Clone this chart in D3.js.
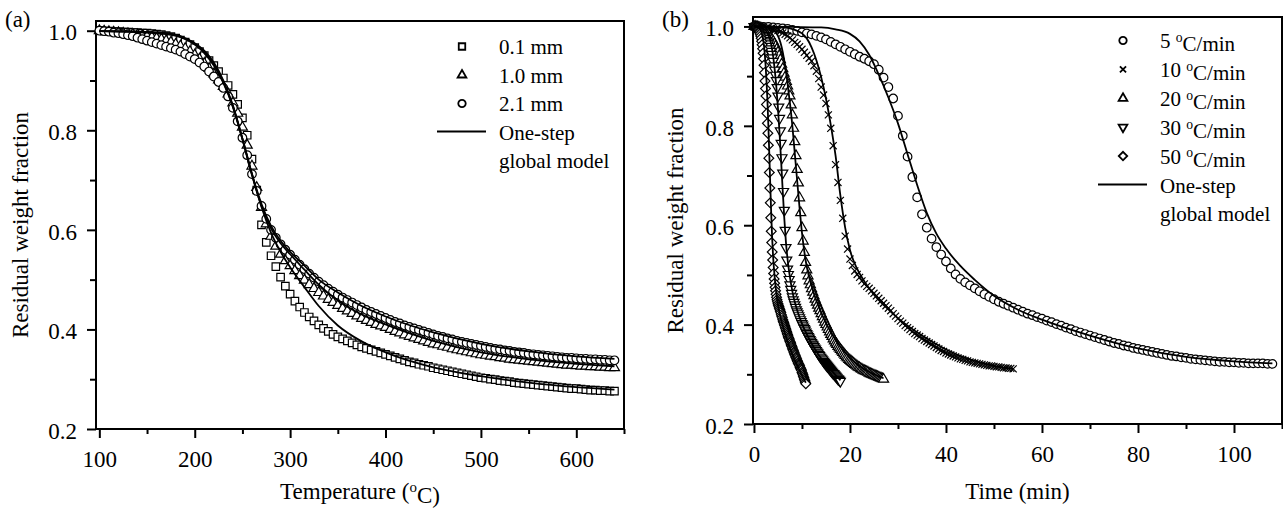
<!DOCTYPE html>
<html lang="en">
  <head>
    <meta charset="utf-8">
    <title>Residual weight fraction</title>
    <script src="https://cdn.jsdelivr.net/npm/d3@7"></script>
    <style type="text/css">
      body { margin: 0; background: #fff; }
      svg { display: block; font-family: "Liberation Serif", "Times New Roman", serif; }
      .frame { fill: none; stroke: #000; stroke-width: 2px; }
      .model { fill: none; stroke: #000; stroke-width: 1.8px; }
      .mark { fill: #fff; stroke: #000; stroke-width: 1.2px; }
      .legmark { fill: #fff; stroke: #000; stroke-width: 1.8px; }
      .tick line { stroke: #000; stroke-width: 2px; }
      .tick text { font-family: "Liberation Serif", "Times New Roman", serif; font-size: 23px; fill: #000; }
      .label { font-size: 23px; fill: #000; }
      .legend text { font-size: 21px; fill: #000; }
    </style>
  </head>
  <body>
    <script>
      var w = 1283;
      var h = 515;

      // panel (a): readings every 5 oC from 100 oC
      var tempStart = 100;
      var tempStep = 5;
      var sizeLabels = ["0.1 mm", "1.0 mm", "2.1 mm"];

      var frac01mm = [1.000,0.999,0.999,0.998,0.998,0.997,0.997,0.996,0.996,0.995,
        0.995,0.994,0.993,0.992,0.990,0.988,0.985,0.981,0.977,0.972,
        0.966,0.958,0.950,0.940,0.930,0.918,0.905,0.890,0.872,0.852,
        0.825,0.790,0.742,0.680,0.610,0.575,0.548,0.526,0.505,0.487,
        0.471,0.457,0.445,0.434,0.425,0.417,0.409,0.402,0.396,0.390,
        0.385,0.381,0.377,0.373,0.369,0.365,0.362,0.359,0.356,0.353,
        0.350,0.347,0.344,0.341,0.338,0.335,0.333,0.330,0.328,0.326,
        0.323,0.321,0.319,0.317,0.315,0.313,0.311,0.309,0.307,0.305,
        0.303,0.302,0.300,0.299,0.297,0.296,0.295,0.293,0.292,0.291,
        0.290,0.289,0.288,0.287,0.286,0.285,0.284,0.283,0.282,0.281,
        0.281,0.280,0.279,0.278,0.278,0.277,0.277,0.276,0.276];

      var frac10mm = [1.000,0.999,0.998,0.997,0.996,0.995,0.994,0.993,0.992,0.990,
        0.989,0.987,0.985,0.983,0.980,0.977,0.973,0.969,0.964,0.958,
        0.951,0.943,0.934,0.924,0.913,0.901,0.888,0.873,0.855,0.834,
        0.806,0.770,0.728,0.685,0.645,0.612,0.587,0.567,0.551,0.538,
        0.528,0.518,0.508,0.499,0.490,0.482,0.474,0.467,0.460,0.454,
        0.448,0.442,0.437,0.432,0.427,0.422,0.418,0.414,0.410,0.407,
        0.404,0.400,0.396,0.393,0.389,0.386,0.383,0.380,0.377,0.374,
        0.371,0.369,0.366,0.364,0.361,0.359,0.357,0.355,0.353,0.351,
        0.349,0.348,0.346,0.345,0.343,0.342,0.340,0.339,0.338,0.337,
        0.336,0.335,0.334,0.333,0.332,0.331,0.330,0.329,0.328,0.328,
        0.327,0.326,0.326,0.325,0.325,0.324,0.324,0.323,0.323];

      var frac21mm = [1.000,0.999,0.998,0.996,0.995,0.993,0.991,0.989,0.986,0.983,
        0.980,0.977,0.974,0.971,0.968,0.965,0.962,0.958,0.953,0.948,
        0.943,0.936,0.928,0.918,0.908,0.897,0.885,0.868,0.845,0.818,
        0.785,0.750,0.712,0.678,0.648,0.622,0.600,0.584,0.571,0.560,
        0.550,0.540,0.530,0.521,0.512,0.504,0.496,0.489,0.482,0.476,
        0.470,0.464,0.459,0.454,0.449,0.444,0.439,0.435,0.431,0.427,
        0.423,0.419,0.415,0.412,0.408,0.405,0.402,0.399,0.396,0.393,
        0.390,0.387,0.385,0.382,0.380,0.377,0.375,0.373,0.371,0.369,
        0.367,0.365,0.363,0.361,0.360,0.358,0.357,0.355,0.354,0.353,
        0.351,0.350,0.349,0.348,0.347,0.346,0.345,0.344,0.343,0.343,
        0.342,0.341,0.341,0.340,0.340,0.339,0.339,0.338,0.338];

      // one-step global model, sampled at these temperatures
      var modelTemps = [100,140,170,185,200,210,220,230,240,250,260,270,280,
        290,300,315,330,350,375,400,450,500,550,600,640];
      var model01mm = [0.999,0.998,0.995,0.988,0.972,0.955,0.930,0.895,0.847,0.783,0.712,0.646,0.594,
        0.556,0.525,0.485,0.447,0.408,0.376,0.354,0.324,0.306,0.293,0.284,0.279];
      var model10mm = [0.999,0.998,0.995,0.989,0.974,0.957,0.932,0.897,0.848,0.782,0.710,0.648,0.603,
        0.573,0.551,0.520,0.490,0.458,0.430,0.410,0.377,0.354,0.340,0.331,0.326];
      var model21mm = [0.999,0.997,0.993,0.987,0.975,0.960,0.936,0.900,0.850,0.783,0.712,0.652,0.608,
        0.578,0.556,0.528,0.500,0.474,0.447,0.426,0.394,0.371,0.356,0.346,0.341];

      // panel (b): heating rates, readings every 5 oC of furnace temperature
      var rates = [5, 10, 20, 30, 50];

      var frac5 = [1.000,1.000,0.999,0.999,0.998,0.997,0.996,0.995,0.993,0.991,
        0.988,0.986,0.984,0.981,0.978,0.974,0.969,0.964,0.959,0.954,
        0.949,0.944,0.939,0.935,0.930,0.924,0.913,0.897,0.878,0.855,
        0.820,0.780,0.738,0.697,0.656,0.622,0.595,0.573,0.556,0.541,
        0.527,0.513,0.501,0.492,0.485,0.479,0.473,0.467,0.461,0.456,
        0.451,0.446,0.442,0.438,0.434,0.430,0.426,0.422,0.419,0.415,
        0.412,0.408,0.405,0.401,0.398,0.394,0.391,0.387,0.384,0.381,
        0.378,0.375,0.372,0.369,0.366,0.363,0.361,0.358,0.356,0.353,
        0.351,0.349,0.347,0.345,0.343,0.341,0.339,0.337,0.336,0.334,
        0.333,0.331,0.330,0.329,0.328,0.327,0.326,0.325,0.325,0.324,
        0.324,0.323,0.323,0.322,0.322,0.322,0.322,0.321,0.321];

      var frac10 = [1.000,1.000,0.999,0.999,0.998,0.997,0.997,0.996,0.995,0.994,
        0.992,0.990,0.987,0.984,0.981,0.977,0.973,0.968,0.964,0.959,
        0.954,0.948,0.942,0.936,0.930,0.921,0.910,0.895,0.878,0.862,
        0.845,0.822,0.795,0.760,0.722,0.686,0.650,0.614,0.578,0.552,
        0.532,0.519,0.508,0.501,0.495,0.488,0.482,0.477,0.473,0.468,
        0.463,0.458,0.453,0.448,0.443,0.438,0.433,0.428,0.422,0.417,
        0.412,0.407,0.403,0.398,0.394,0.390,0.386,0.382,0.379,0.376,
        0.372,0.369,0.366,0.363,0.360,0.357,0.354,0.351,0.348,0.346,
        0.343,0.341,0.339,0.337,0.335,0.333,0.331,0.330,0.328,0.327,
        0.325,0.324,0.323,0.322,0.321,0.320,0.319,0.318,0.317,0.317,
        0.316,0.315,0.315,0.314,0.313,0.313,0.312,0.312,0.311];

      var frac20 = [1.000,1.000,0.999,0.999,0.998,0.997,0.996,0.995,0.993,0.991,
        0.989,0.987,0.984,0.981,0.977,0.974,0.970,0.965,0.960,0.954,
        0.948,0.941,0.933,0.924,0.915,0.906,0.898,0.889,0.880,0.870,
        0.860,0.842,0.822,0.795,0.768,0.740,0.712,0.685,0.655,0.625,
        0.595,0.568,0.545,0.525,0.510,0.498,0.488,0.480,0.472,0.465,
        0.458,0.451,0.445,0.439,0.433,0.428,0.422,0.416,0.411,0.405,
        0.400,0.395,0.390,0.385,0.380,0.376,0.371,0.367,0.363,0.360,
        0.356,0.353,0.350,0.347,0.344,0.341,0.338,0.335,0.333,0.330,
        0.328,0.326,0.324,0.322,0.320,0.318,0.316,0.314,0.313,0.311,
        0.310,0.308,0.307,0.306,0.305,0.304,0.302,0.301,0.300,0.299,
        0.298,0.297,0.296,0.295,0.294,0.293,0.292,0.291,0.290];

      var frac30 = [1.000,1.000,0.999,0.999,0.998,0.997,0.996,0.995,0.993,0.991,
        0.989,0.987,0.985,0.982,0.979,0.976,0.972,0.969,0.965,0.960,
        0.955,0.950,0.944,0.937,0.930,0.921,0.912,0.902,0.891,0.877,
        0.860,0.838,0.815,0.790,0.765,0.736,0.705,0.668,0.630,0.590,
        0.555,0.530,0.512,0.501,0.491,0.480,0.471,0.463,0.456,0.450,
        0.445,0.440,0.435,0.430,0.426,0.422,0.418,0.414,0.410,0.406,
        0.402,0.399,0.395,0.392,0.389,0.385,0.382,0.379,0.376,0.373,
        0.370,0.367,0.364,0.361,0.359,0.356,0.353,0.351,0.348,0.345,
        0.343,0.340,0.338,0.335,0.333,0.331,0.329,0.326,0.324,0.322,
        0.320,0.318,0.316,0.314,0.312,0.310,0.308,0.306,0.304,0.302,
        0.301,0.299,0.297,0.295,0.293,0.291,0.290,0.288,0.286];

      var frac50 = [1.000,1.000,1.000,0.999,0.999,0.998,0.998,0.997,0.996,0.994,
        0.992,0.990,0.988,0.985,0.981,0.976,0.970,0.963,0.955,0.946,
        0.935,0.922,0.907,0.890,0.875,0.860,0.843,0.825,0.805,0.785,
        0.761,0.735,0.706,0.675,0.645,0.615,0.588,0.565,0.546,0.530,
        0.515,0.503,0.492,0.483,0.475,0.468,0.461,0.455,0.450,0.446,
        0.442,0.439,0.436,0.433,0.430,0.427,0.424,0.420,0.417,0.414,
        0.410,0.407,0.404,0.401,0.398,0.395,0.392,0.389,0.386,0.383,
        0.380,0.377,0.374,0.372,0.369,0.366,0.364,0.361,0.358,0.356,
        0.353,0.350,0.348,0.345,0.343,0.340,0.338,0.335,0.333,0.331,
        0.328,0.326,0.323,0.321,0.319,0.317,0.314,0.312,0.310,0.308,
        0.304,0.302,0.299,0.296,0.293,0.290,0.287,0.284,0.281];

      var model5 = [1.000,0.999,0.998,0.994,0.985,0.970,0.943,0.903,0.857,0.805,0.743,0.681,0.625,
        0.583,0.553,0.518,0.490,0.458,0.430,0.410,0.378,0.352,0.335,0.326,0.322];
      var model10 = [1.000,0.999,0.997,0.993,0.986,0.976,0.958,0.932,0.898,0.855,0.802,0.740,0.660,
        0.595,0.550,0.512,0.487,0.460,0.435,0.413,0.378,0.350,0.330,0.317,0.311];
      var model20 = [1.000,0.999,0.996,0.991,0.981,0.968,0.948,0.920,0.885,0.845,0.800,0.745,0.690,
        0.635,0.585,0.530,0.495,0.462,0.430,0.403,0.362,0.333,0.313,0.300,0.292];
      var model30 = [1.000,0.998,0.993,0.986,0.974,0.960,0.940,0.912,0.878,0.835,0.785,0.728,0.668,
        0.612,0.565,0.518,0.485,0.452,0.424,0.402,0.368,0.341,0.320,0.302,0.288];
      var model50 = [1.000,0.998,0.992,0.983,0.968,0.950,0.925,0.893,0.852,0.800,0.742,0.680,0.622,
        0.572,0.535,0.497,0.468,0.440,0.416,0.397,0.366,0.340,0.318,0.298,0.283];

      var yMajor = [0.2, 0.4, 0.6, 0.8, 1.0];
      var yMinor = [0.3, 0.5, 0.7, 0.9];
      var serif = "Liberation Serif, Times New Roman, serif";

      var svg = d3.select("body").append("svg")
          .attr("width", w).attr("height", h);

      var crossType = {
        draw: function(context, size) {
          var r = Math.sqrt(size) / 2;
          context.moveTo(-r, -r); context.lineTo(r, r);
          context.moveTo(-r, r); context.lineTo(r, -r);
        }
      };

      var shapes = {
        circle: { type: d3.symbolCircle, size: 58, rot: 0 },
        square: { type: d3.symbolSquare, size: 56, rot: 0 },
        triangle: { type: d3.symbolTriangle, size: 44, rot: 0 },
        triangleDown: { type: d3.symbolTriangle, size: 44, rot: 180 },
        diamond: { type: d3.symbolSquare, size: 48, rot: 45 },
        cross: { type: crossType, size: 50, rot: 0 }
      };

      function shapePath(kind, scale) {
        var s = shapes[kind];
        return d3.symbol().type(s.type).size(s.size * scale)();
      }

      function makePanel(p) {
        var x = d3.scaleLinear().domain(p.xDomain).range([p.left, p.right]);
        var y = d3.scaleLinear().domain(p.yDomain).range([p.bottom, p.top]);
        var g = svg.append("g");

        // minor ticks
        g.append("g").attr("transform", "translate(0," + p.bottom + ")")
          .call(d3.axisBottom(x).tickValues(p.xMinor).tickSize(5).tickFormat(""))
          .call(s => s.select(".domain").remove());
        g.append("g").attr("transform", "translate(" + p.left + ",0)")
          .call(d3.axisLeft(y).tickValues(yMinor).tickSize(6).tickFormat(""))
          .call(s => s.select(".domain").remove());

        // major ticks
        g.append("g").attr("transform", "translate(0," + p.bottom + ")")
          .call(d3.axisBottom(x).tickValues(p.xMajor).tickSize(9).tickFormat(d3.format("d")))
          .attr("font-family", serif).attr("font-size", 23)
          .call(s => s.select(".domain").remove())
          .call(s => s.selectAll(".tick text").attr("y", 38).attr("dy", 0));
        g.append("g").attr("transform", "translate(" + p.left + ",0)")
          .call(d3.axisLeft(y).tickValues(yMajor).tickSize(9).tickFormat(d3.format(".1f")))
          .attr("font-family", serif).attr("font-size", 23)
          .call(s => s.select(".domain").remove())
          .call(s => s.selectAll(".tick text").attr("x", -19).attr("dy", "0.4em"));

        g.append("rect").attr("class", "frame")
          .attr("x", p.left).attr("y", p.top)
          .attr("width", p.right - p.left).attr("height", p.bottom - p.top);

        // data markers
        p.series.forEach(function(s) {
          g.append("g").selectAll("path")
            .data(s.points)
            .join("path")
            .attr("class", "mark")
            .attr("d", shapePath(s.shape, 1))
            .attr("transform", d => "translate(" + x(d[0]) + "," + y(d[1]) + ") rotate(" + shapes[s.shape].rot + ")");
        });

        // model lines
        var line = d3.line().curve(d3.curveMonotoneX)
          .x(d => x(d[0])).y(d => y(d[1]));
        p.models.forEach(function(m) {
          g.append("path").datum(m).attr("class", "model").attr("d", line);
        });

        // axis titles
        var xt = g.append("text").attr("class", "label")
          .attr("x", (p.left + p.right) / 2).attr("y", 499)
          .attr("text-anchor", "middle");
        p.xTitle(xt);
        g.append("text").attr("class", "label")
          .attr("transform", "translate(" + p.yTitleX + "," + (p.top + p.bottom) / 2 + ") rotate(-90)")
          .attr("text-anchor", "middle")
          .text("Residual weight fraction");
        g.append("text").attr("class", "label")
          .attr("x", p.tagX).attr("y", 27).text(p.tag);

        // legend
        var leg = g.append("g").attr("class", "legend");
        p.legend.forEach(function(item, i) {
          var by = p.legY + i * p.legGap;
          leg.append("path").attr("class", "legmark")
            .attr("d", shapePath(item.shape, 0.75))
            .attr("transform", "translate(" + p.legSymX + "," + (by - 7.5) + ") rotate(" + shapes[item.shape].rot + ")");
          var t = leg.append("text").attr("x", p.legTextX).attr("y", by);
          item.label(t);
        });
        var ly = p.legY + p.legend.length * p.legGap;
        leg.append("line")
          .attr("x1", p.legSymX - 25).attr("x2", p.legSymX + 24)
          .attr("y1", ly - 8).attr("y2", ly - 8)
          .attr("stroke", "#000").attr("stroke-width", 2);
        leg.append("text").attr("x", p.legTextX).attr("y", ly).text("One-step");
        leg.append("text").attr("x", p.legTextX).attr("y", ly + p.legGap).text("global model");
      }

      function degText(t, before, after) {
        t.append("tspan").text(before);
        t.append("tspan").attr("dy", "-0.45em").attr("font-size", "65%").text("o");
        t.append("tspan").attr("dy", "0.45em").text(after);
      }

      function pairs(start, step, values) {
        return values.map((v, i) => [start + i * step, v]);
      }

      // panel (a)
      var sizeShapes = ["square", "triangle", "circle"];
      var sizeData = [frac01mm, frac10mm, frac21mm];
      var sizeModels = [model01mm, model10mm, model21mm];

      makePanel({
        left: 96, right: 624, top: 21, bottom: 429,
        xDomain: [96.5, 650], yDomain: [0.2, 1.0195],
        xMajor: [100, 200, 300, 400, 500, 600],
        xMinor: [150, 250, 350, 450, 550, 650],
        series: sizeData.map((vals, k) => ({
          shape: sizeShapes[k],
          points: pairs(tempStart, tempStep, vals)
        })),
        models: sizeModels.map(vals => vals.map((v, j) => [modelTemps[j], v])),
        xTitle: t => degText(t, "Temperature (", "C)"),
        yTitleX: 28, tag: "(a)", tagX: 5,
        legSymX: 462, legTextX: 499, legY: 54, legGap: 28.5,
        legend: sizeLabels.map((lab, k) => ({ shape: sizeShapes[k], label: t => t.text(lab) }))
      });

      // panel (b)
      var rateShapes = ["circle", "cross", "triangle", "triangleDown", "diamond"];
      var rateData = [frac5, frac10, frac20, frac30, frac50];
      var rateModels = [model5, model10, model20, model30, model50];

      makePanel({
        left: 753, right: 1282, top: 17, bottom: 424,
        xDomain: [-0.2, 110], yDomain: [0.2, 1.019],
        xMajor: [0, 20, 40, 60, 80, 100],
        xMinor: [10, 30, 50, 70, 90, 110],
        series: rateData.map((vals, k) => ({
          shape: rateShapes[k],
          points: pairs(0, tempStep / rates[k], vals)
        })),
        models: rateModels.map((vals, k) =>
          vals.map((v, j) => [(modelTemps[j] - tempStart) / rates[k], v])),
        xTitle: t => t.text("Time (min)"),
        yTitleX: 683, tag: "(b)", tagX: 662,
        legSymX: 1123, legTextX: 1160, legY: 48, legGap: 28.9,
        legend: rates.map((r, k) => ({
          shape: rateShapes[k],
          label: t => degText(t, r + " ", "C/min")
        }))
      });
    </script>
  </body>
</html>
